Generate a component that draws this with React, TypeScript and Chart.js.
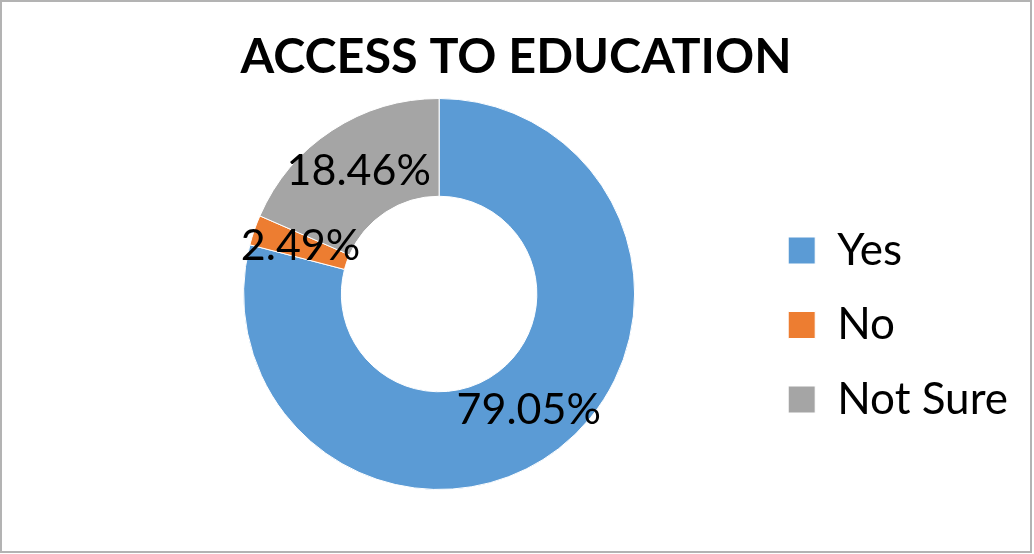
import React, { useEffect, useRef } from "react";
import { Chart, registerables } from "chart.js";

Chart.register(...registerables);

const categories = ["Yes", "No", "Not Sure"];
const values = [79.05, 2.49, 18.46];
const labelsText = ["79.05%", "2.49%", "18.46%"];
const colors = ["#5B9BD5", "#ED7D31", "#A5A5A5"];
const titleText = "ACCESS TO EDUCATION";

const FONT = "Lato, 'Open Sans', sans-serif";

const dataLabelPlugin = {
  id: "dataLabels",
  afterLayout(chart: any) {
    // center the title across the whole canvas
    const tb = chart.titleBlock;
    if (tb) {
      tb.left = 0;
      tb.right = chart.width;
      tb.width = chart.width;
    }
  },
  afterDatasetsDraw(chart: any) {
    const ctx = chart.ctx;
    const meta = chart.getDatasetMeta(0);
    ctx.save();
    ctx.font = `43px ${FONT}`;
    ctx.fillStyle = "#000";
    ctx.textAlign = "center";
    ctx.textBaseline = "middle";
    meta.data.forEach((el: any, i: number) => {
      const p = el.tooltipPosition();
      ctx.fillText(labelsText[i], p.x, p.y);
    });
    ctx.restore();
  },
};

export default function App() {
  const ref = useRef<HTMLCanvasElement>(null);
  useEffect(() => {
    if (!ref.current) return;
    const chart = new Chart(ref.current, {
      type: "doughnut",
      data: {
        labels: categories,
        datasets: [
          {
            data: values,
            backgroundColor: colors,
            borderColor: "#ffffff",
            borderWidth: 1,
          },
        ],
      },
      options: {
        responsive: false,
        animation: false,
        cutout: "50%",
        layout: { padding: { left: 118.5, right: 12, top: 0, bottom: 61 } },
        plugins: {
          title: {
            display: true,
            text: titleText,
            color: "#000",
            font: { family: FONT, size: 48.5, weight: "bold", lineHeight: 1.2 },
            padding: { top: 25.9, bottom: 11.9 },
          },
          legend: {
            position: "right",
            align: "center",
            title: {
              display: true,
              text: " ",
              font: { size: 10, lineHeight: 1 },
              padding: { top: 74, bottom: 74 },
            },
            labels: {
              boxWidth: 27,
              boxHeight: 27,
              padding: 30.5,
              color: "#000",
              font: { family: FONT, size: 44 },
            },
          },
          tooltip: { enabled: false },
        },
      },
      plugins: [dataLabelPlugin],
    });
    return () => chart.destroy();
  }, []);
  return (
    <div
      style={{
        position: "absolute",
        left: 0,
        top: 0,
        width: 1032,
        height: 553,
        boxSizing: "border-box",
        border: "2px solid #b3b3b3",
        background: "#fff",
      }}
    >
      <canvas ref={ref} width={1028} height={549} style={{ display: "block" }} />
    </div>
  );
}
